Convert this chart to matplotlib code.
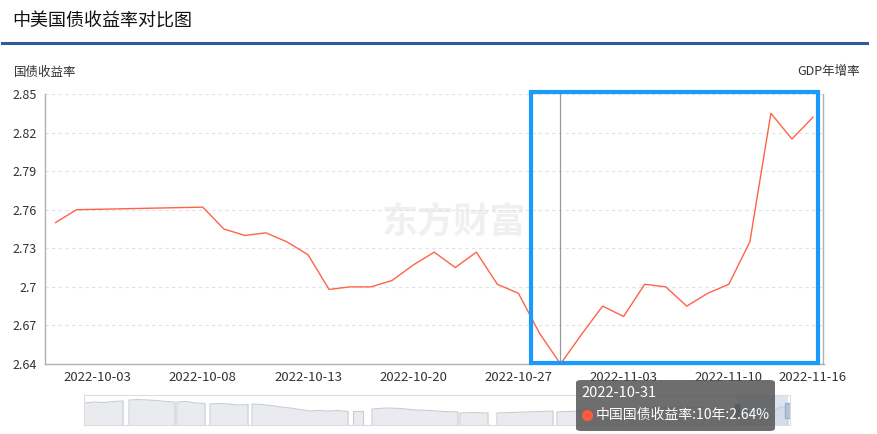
import matplotlib
matplotlib.use('Agg')
import matplotlib.pyplot as plt
from matplotlib.patches import Rectangle, FancyBboxPatch
import numpy as np

plt.rcParams['font.family'] = ['Noto Sans CJK SC', 'DejaVu Sans']

# ---- data (China 10y government bond yield, trading days) ----
dates = ['2022-09-29', '2022-09-30',
         '2022-10-03', '2022-10-04', '2022-10-05', '2022-10-06', '2022-10-07',
         '2022-10-08', '2022-10-09', '2022-10-10', '2022-10-11', '2022-10-12',
         '2022-10-13', '2022-10-14', '2022-10-17', '2022-10-18', '2022-10-19',
         '2022-10-20', '2022-10-21', '2022-10-24', '2022-10-25', '2022-10-26',
         '2022-10-27', '2022-10-28', '2022-10-31', '2022-11-01', '2022-11-02',
         '2022-11-03', '2022-11-04', '2022-11-07', '2022-11-08', '2022-11-09',
         '2022-11-10', '2022-11-11', '2022-11-14', '2022-11-15', '2022-11-16']
nan = np.nan
cn10y = [2.750, 2.760,
         nan, nan, nan, nan, nan,
         2.762, 2.745, 2.740, 2.742, 2.735, 2.725, 2.698, 2.700, 2.700, 2.705,
         2.717, 2.727, 2.715, 2.727, 2.702, 2.695, 2.664, 2.640, 2.663, 2.685,
         2.677, 2.702, 2.700, 2.685, 2.695, 2.702, 2.735, 2.835, 2.815, 2.832]
label_idx = [2, 7, 12, 17, 22, 27, 32, 36]
yticks = [2.64, 2.67, 2.70, 2.73, 2.76, 2.79, 2.82, 2.85]
hover_idx = 24

# overview slider (whole history, relative heights), one run per block of trading days
slider_start = [0, 45, 93, 126, 168, 269, 288, 376, 413, 473, 545, 625, 656]
slider_end = [39, 91, 121, 164, 264, 279, 374, 404, 469, 540, 620, 653, 704]
slider_vals = [[22, 23, 22.5, 23.5, 24],
               [25, 25.5, 25, 24.5, 23.5, 23],
               [23, 23.5, 22, 21.5],
               [21, 21.5, 21, 20, 20.5],
               [21, 20.5, 19.5, 18, 17, 15.5, 14, 14.5, 14, 14.5, 13.5],
               [14, 14],
               [16, 17, 16.5, 15, 14.5, 13.5, 13],
               [12, 12.5, 12],
               [12, 12.5, 13, 13.5, 14],
               [13, 14, 15, 16],
               [16, 17, 18, 17.5],
               [16, 15, 14.5],
               [15, 14, 12.5, 14, 13.5, 18, 17.5]]

W, H = 878, 434
fig = plt.figure(figsize=(W / 100, H / 100), dpi=100)


def fx(x):
    return x / W


def fy(y):
    return 1 - y / H


# title + rule
fig.text(fx(12), fy(22), '中美国债收益率对比图', fontsize=13, color='#111111', va='center', ha='left')
fig.add_artist(plt.Line2D([fx(2), fx(867)], [fy(43), fy(43)], color='#2F5B9A', lw=2.2))

# main axes
ax = fig.add_axes([fx(45), fy(364), fx(823.5) - fx(45), fy(94) - fy(364)])
x = np.arange(len(dates))
vals = np.array(cn10y)
ok = ~np.isnan(vals)
ax.plot(x[ok], vals[ok], color='#FF6347', lw=1.0, zorder=3)

ax.set_xlim(-0.5, len(dates) - 0.5)
ax.set_ylim(yticks[0], yticks[-1])
ax.set_yticks(yticks)
ax.set_yticklabels([f'{v:.2f}'.rstrip('0') for v in yticks], fontsize=9, color='#333333')
ax.set_xticks(label_idx)
ax.set_xticklabels([dates[i] for i in label_idx], fontsize=9.5, color='#333333')
ax.tick_params(length=0, pad=6)
ax.tick_params(axis='x', pad=5)
for v in yticks[1:]:
    ax.axhline(v, color='#DCE3EC', lw=0.8, ls=(0, (3, 3)), zorder=1)
for s in ['left', 'bottom', 'right']:
    ax.spines[s].set_color('#B0B0B0')
    ax.spines[s].set_linewidth(1.0)
ax.spines['top'].set_visible(False)

# crosshair at hovered day
ax.axvline(hover_idx, color='#999999', lw=0.9, zorder=2)

# watermark
ax.text(0.525, 0.525, '东方财富', transform=ax.transAxes, fontsize=26, fontweight='bold',
        color='#EFF0F2', ha='center', va='center', zorder=0)

fig.text(fx(14), fy(72), '国债收益率', fontsize=9, color='#333333', va='center', ha='left')
fig.text(fx(860), fy(72), 'GDP年增率', fontsize=9, color='#333333', va='center', ha='right')

# highlight box
fig.add_artist(Rectangle((fx(531), fy(363)), fx(818) - fx(531), fy(92) - fy(363),
                         fill=False, edgecolor='#1A9BFC', lw=3.0, zorder=10))

# slider
sax = fig.add_axes([fx(84), fy(425), fx(790) - fx(84), fy(395) - fy(425)])
for st, en, hv in zip(slider_start, slider_end, slider_vals):
    tt = np.linspace(st, en, len(hv))
    sax.fill_between(tt, 0, hv, color='#E9EBEE', lw=0)
    sax.plot(np.r_[st, tt, en], np.r_[0, hv, 0], color='#C9CDD3', lw=0.8)
sax.axvspan(653, 704, color='#C7D2E6', alpha=0.6, lw=0)
sax.add_patch(Rectangle((651.5, 8), 4, 13, color='#6E7787', zorder=5))
sax.add_patch(Rectangle((701, 7), 6, 15, color='#B5C3DA', ec='#9FB0CC', zorder=5))
sax.set_xlim(0, 706)
sax.set_ylim(0, 30)
sax.set_xticks([])
sax.set_yticks([])
for s in sax.spines.values():
    s.set_color('#DDDDDD')
    s.set_linewidth(0.8)

# tooltip
fig.add_artist(FancyBboxPatch((fx(576), fy(431)), fx(775) - fx(576), fy(380) - fy(431),
                              boxstyle='round,pad=0,rounding_size=0.006',
                              fc='#555555', ec='none', alpha=0.85, zorder=20))
fig.text(fx(581), fy(393), dates[hover_idx], fontsize=10.5, color='white', va='center', ha='left', zorder=21)
fig.add_artist(plt.Line2D([fx(587)], [fy(415)], marker='o', ms=7, color='#FF5A3A', zorder=21))
fig.text(fx(596), fy(415), f'中国国债收益率:10年:{cn10y[hover_idx]:.2f}%', fontsize=10,
         color='white', va='center', ha='left', zorder=21)

fig.savefig('out.png', dpi=100)
